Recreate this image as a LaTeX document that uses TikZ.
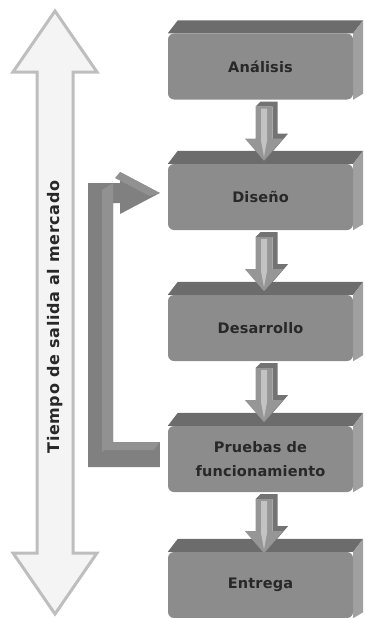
\documentclass[tikz,border=0pt]{standalone}
\usepackage{fontspec}
\newfontfamily\boxfont{DejaVu Sans}[LetterSpace=1]
\newfontfamily\sidefont{DejaVu Sans}[LetterSpace=4]
\usetikzlibrary{calc,backgrounds}
\definecolor{boxfront}{RGB}{140,140,140}
\definecolor{boxtop}{RGB}{108,108,108}
\definecolor{boxside}{RGB}{160,160,160}
\definecolor{txt}{RGB}{40,40,40}
\definecolor{arrfront}{RGB}{150,150,150}
\definecolor{arrlight}{RGB}{195,195,195}
\definecolor{arrdark}{RGB}{115,115,115}
\definecolor{fbdark}{RGB}{128,128,128}
\definecolor{fblight}{RGB}{145,145,145}
\definecolor{bigfill}{RGB}{244,244,244}
\definecolor{bigedge}{RGB}{190,190,190}
\tikzset{
  stepbox/.style={rectangle, rounded corners=6pt, fill=boxfront,
    minimum width=185pt, minimum height=66pt, inner sep=0pt,
    font=\boxfont\bfseries\fontsize{14.5}{24}\selectfont, text=txt, align=center},
}
\newcommand\boxfaces[1]{%
  \fill[boxtop] (#1.north west) -- ++(10,-13) -- ($(#1.north east)+(10,-13)$) -- (#1.north east) -- cycle;
  \fill[boxside] (#1.north east) -- ($(#1.north east)+(10,-13)$) -- ($(#1.south east)+(10,-6)$) -- ($(#1.south east)+(0,0)$) -- cycle;
}
\newcommand\stepconn[2]{%
  \coordinate (#1c) at ($(#1.south)+(3.5,7)$);
  \fill[arrdark] ($(#1c)+(-3.5,-5)$) -- ($(#1c)+(13.5,-5)$) -- ($(#1c)+(13.5,27)$) -- ($(#1c)+(24,27)$) -- ($(#1c)+(5,49)$) -- ($(#1c)+(0,54)$) -- ($(#1c)+(8.5,32)$) -- ($(#1c)+(8.5,0)$) -- ($(#1c)+(-8.5,0)$) -- cycle;
  \fill[arrfront] ($(#1c)+(-8.5,0)$) -- ($(#1c)+(8.5,0)$) -- ($(#1c)+(8.5,32)$) -- ($(#1c)+(19,32)$) -- ($(#1c)+(0,54)$) -- ($(#1c)+(-19,32)$) -- ($(#1c)+(-8.5,32)$) -- cycle;
  \fill[arrlight] ($(#1c)+(-3,2)$) -- ($(#1c)+(3,2)$) -- ($(#1c)+(3,34)$) -- ($(#1c)+(0,50)$) -- ($(#1c)+(-3,34)$) -- cycle;
}
\begin{document}
\begin{tikzpicture}[x=1pt,y=-1pt]
\useasboundingbox (0,0) rectangle (365,618);

% time arrow
\filldraw[fill=bigfill, draw=bigedge, line width=3pt, line join=miter]
  (55,11) -- (97,72) -- (73,72) -- (73,553) -- (97,553) -- (55,614)
  -- (13,553) -- (37,553) -- (37,72) -- (13,72) -- cycle;
\node[rotate=90, font=\sidefont\bfseries\fontsize{16}{18}\selectfont, text=txt] (tiempo) at (55,317) {Tiempo de salida al mercado};

% boxes
\node[stepbox] (ana) at (260.5,66.5) {Análisis};
\node[stepbox] (dis) at (260.5,197) {Diseño};
\node[stepbox] (des) at (260.5,328) {Desarrollo};
\node[stepbox] (pru) at (260.5,459) {Pruebas de\\funcionamiento};
\node[stepbox] (ent) at (260.5,585) {Entrega};
\begin{scope}[on background layer]
\boxfaces{ana}\boxfaces{dis}\boxfaces{des}\boxfaces{pru}\boxfaces{ent}
\end{scope}

% step arrows
\stepconn{ana}{dis}
\stepconn{dis}{des}
\stepconn{des}{pru}
\stepconn{pru}{ent}

% feedback arrow
\coordinate (fbA) at ($(pru.west)+(-8,-17)$);
\coordinate (fbB) at ($(pru.west)+(-8,8)$);
\coordinate (fbT) at ($(dis.west)+(-8,-4)$);
\fill[fbdark] (fbA) -- (113,442) -- (113,203) -- (120,203) -- (120,214) -- (fbT)
  -- (120,172) -- (120,183) -- (88,183) -- (88,467) -- (fbB) -- cycle;
\fill[fblight] (102,190) -- (113,183) -- (113,442) -- (102,452) -- cycle;
\fill[fblight] (113,442) -- (fbA) -- ($(fbA)+(-6,8)$) -- (102,450) -- cycle;
\fill[fblight] (120,172) -- (fbT) -- ($(fbT)+(-10,3)$) -- (115,178) -- cycle;
\end{tikzpicture}
\end{document}
